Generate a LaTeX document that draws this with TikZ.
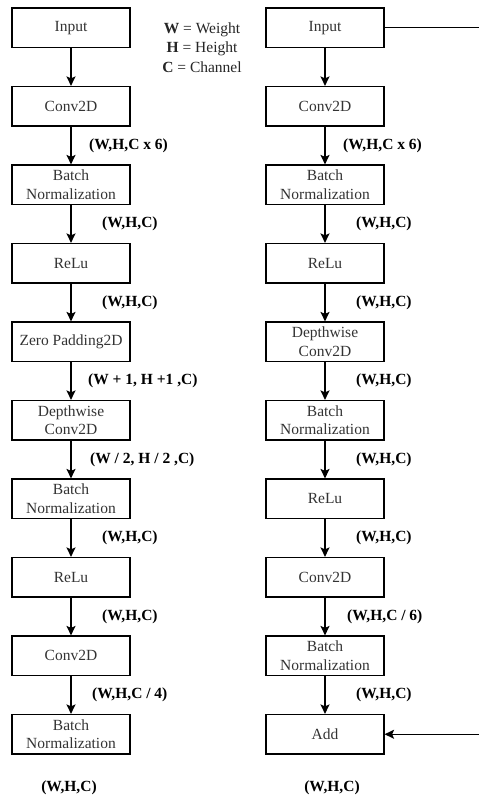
\documentclass[tikz,border=0pt]{standalone}
\usepackage{fontspec}
\setmainfont{Liberation Serif}
\usetikzlibrary{arrows.meta}
\begin{document}
\begin{tikzpicture}[x=1pt,y=-1pt,
  blk/.style={draw, line width=1.2pt, minimum width=118pt, minimum height=39.5pt, inner sep=0pt, align=center, text=black!80, font=\fontsize{15.5}{18.5}\selectfont},
  lbl/.style={font=\fontsize{15.5}{18}\selectfont\bfseries, anchor=west, inner sep=0pt},
  arr/.style={-{Stealth[length=9.5pt,width=9pt,inset=2pt]}, line width=1.2pt},
  ln/.style={line width=1.2pt}]
\useasboundingbox (0,0) rectangle (479,796);
% left column
\node[blk] (L0) at (71,27.75) {Input};
\node[blk] (L1) at (71,106.25) {Conv2D};
\node[blk] (L2) at (71,184.75) {Batch\\Normalization};
\node[blk] (L3) at (71,263.25) {ReLu};
\node[blk] (L4) at (71,341.75) {Zero Padding2D};
\node[blk] (L5) at (71,420.25) {Depthwise\\Conv2D};
\node[blk] (L6) at (71,498.75) {Batch\\Normalization};
\node[blk] (L7) at (71,577.25) {ReLu};
\node[blk] (L8) at (71,655.75) {Conv2D};
\node[blk] (L9) at (71,734.25) {Batch\\Normalization};
% right column
\node[blk] (R0) at (325,27.75) {Input};
\node[blk] (R1) at (325,106.25) {Conv2D};
\node[blk] (R2) at (325,184.75) {Batch\\Normalization};
\node[blk] (R3) at (325,263.25) {ReLu};
\node[blk] (R4) at (325,341.75) {Depthwise\\Conv2D};
\node[blk] (R5) at (325,420.25) {Batch\\Normalization};
\node[blk] (R6) at (325,498.75) {ReLu};
\node[blk] (R7) at (325,577.25) {Conv2D};
\node[blk] (R8) at (325,655.75) {Batch\\Normalization};
\node[blk] (R9) at (325,734.25) {Add};
% arrows
\foreach \i/\j in {0/1,1/2,2/3,3/4,4/5,5/6,6/7,7/8,8/9}{
  \draw[arr] (L\i) -- (L\j);
  \draw[arr] (R\i) -- (R\j);
}
% skip connection
\coordinate (skipA) at (479,27.75);
\coordinate (skipB) at (479,734.25);
\draw[ln] (R0.east) -- (skipA);
\draw[arr] (skipB) -- (R9.east);
% left labels
\node[lbl] (la1) at (89,145.5) {(W,H,C x 6)};
\node[lbl] (la2) at (102,224) {(W,H,C)};
\node[lbl] (la3) at (102,302.5) {(W,H,C)};
\node[lbl] (la4) at (88,381) {(W + 1, H +1 ,C)};
\node[lbl] (la5) at (90,459.5) {(W / 2, H / 2 ,C)};
\node[lbl] (la6) at (102,538) {(W,H,C)};
\node[lbl] (la7) at (102,616.5) {(W,H,C)};
\node[lbl] (la8) at (92,695) {(W,H,C / 4)};
% right labels
\node[lbl] (ra1) at (343,145.5) {(W,H,C x 6)};
\node[lbl] (ra2) at (356,224) {(W,H,C)};
\node[lbl] (ra3) at (356,302.5) {(W,H,C)};
\node[lbl] (ra4) at (356,381) {(W,H,C)};
\node[lbl] (ra5) at (356,459.5) {(W,H,C)};
\node[lbl] (ra6) at (356,538) {(W,H,C)};
\node[lbl] (ra7) at (347,616.5) {(W,H,C / 6)};
\node[lbl] (ra8) at (356,695) {(W,H,C)};
% bottom outputs
\node[lbl,anchor=center] (lout) at (69,788) {(W,H,C)};
\node[lbl,anchor=center] (rout) at (332,788) {(W,H,C)};
% legend
\node[align=center, inner sep=0pt, text=black!85, font=\fontsize{15.5}{19.5}\selectfont] (legend) at (202,47.5)
  {\textbf{W} = Weight\\ \textbf{H} = Height\\ \textbf{C} = Channel};
\end{tikzpicture}
\end{document}
